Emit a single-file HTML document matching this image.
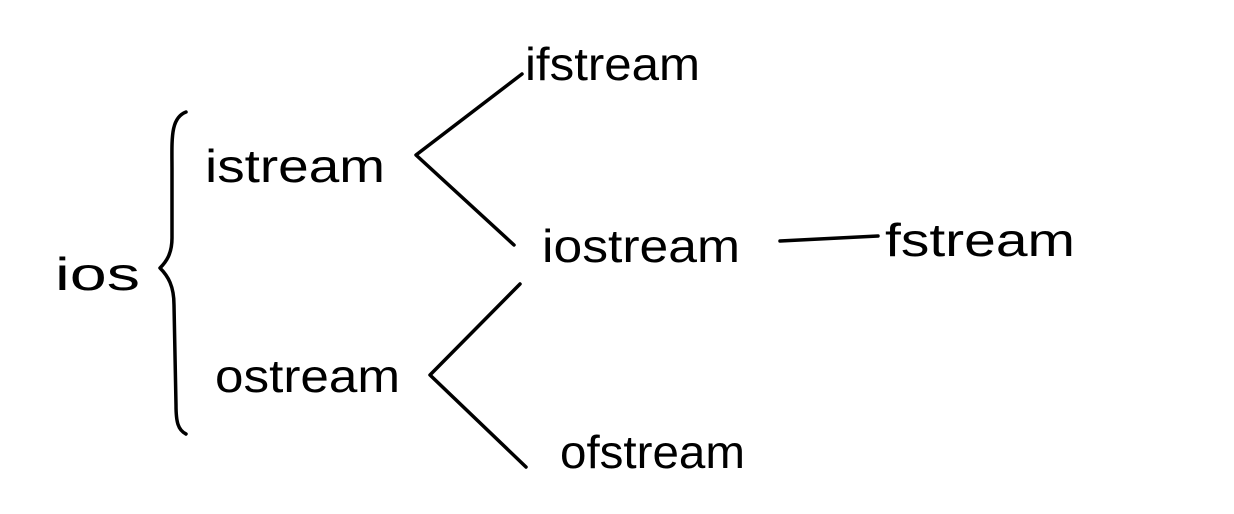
<!DOCTYPE html>
<html><head><meta charset="utf-8"><style>
html,body{margin:0;padding:0;background:#fff;}
svg{display:block}
text{font-family:"Liberation Sans",sans-serif;fill:#000;font-size:46px;}
</style></head><body>
<svg width="1234" height="514" viewBox="0 0 1234 514" xmlns="http://www.w3.org/2000/svg">
<g fill="none" stroke="#000" stroke-width="3.5" stroke-linecap="round" stroke-linejoin="round">
<path d="M186,112 C170,118 172,140 172,170 L172,238 C172,254 166,262 160,268 C168,276 174,286 174,305 L176,405 C176,422 178,430 186,434"/>
<path d="M522,74 L416,155 L514,245"/>
<path d="M520,284 L430,375 L526,467"/>
<path d="M780,241 L878,236"/>
</g>
<text x="55" y="290" textLength="85" lengthAdjust="spacingAndGlyphs">ios</text>
<text x="205" y="182" textLength="180" lengthAdjust="spacingAndGlyphs">istream</text>
<text x="215" y="392" textLength="185" lengthAdjust="spacingAndGlyphs">ostream</text>
<text x="525" y="80" textLength="175" lengthAdjust="spacingAndGlyphs">ifstream</text>
<text x="542" y="262" textLength="198" lengthAdjust="spacingAndGlyphs">iostream</text>
<text x="885" y="256" textLength="190" lengthAdjust="spacingAndGlyphs">fstream</text>
<text x="560" y="468" textLength="185" lengthAdjust="spacingAndGlyphs">ofstream</text>
</svg>
</body></html>
